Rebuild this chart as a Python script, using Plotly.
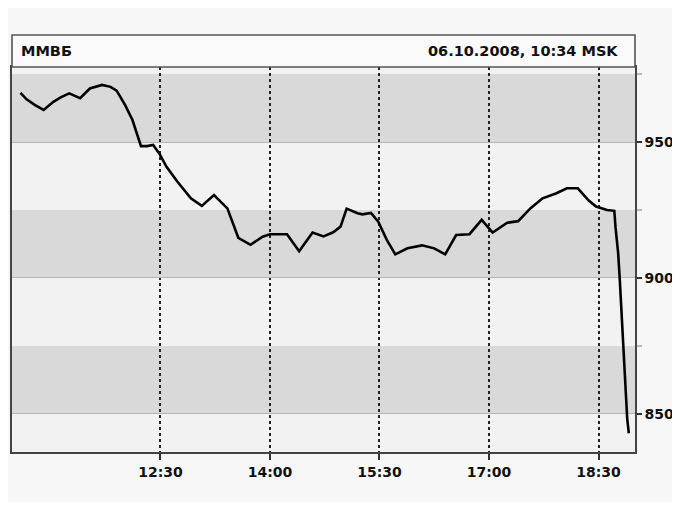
import plotly.graph_objects as go

day = "2008-10-06 "
times = ["10:35", "10:40", "10:47", "10:54", "11:02", "11:08", "11:15", "11:24", "11:32", "11:42",
         "11:49", "11:54", "12:01", "12:07", "12:14", "12:19", "12:24", "12:29", "12:35", "12:44",
         "12:55", "13:04", "13:14", "13:25", "13:34", "13:44", "13:54", "14:00", "14:14", "14:24",
         "14:35", "14:44", "14:52", "14:58", "15:03", "15:12", "15:16", "15:23", "15:29", "15:36",
         "15:43", "15:53", "16:05", "16:15", "16:24", "16:33", "16:44", "16:54", "17:03", "17:15",
         "17:24", "17:34", "17:44", "17:55", "18:04", "18:13", "18:22", "18:28", "18:37", "18:43",
         "18:44:00", "18:46:10", "18:47:30", "18:49:10", "18:50:50", "18:52:10", "18:53:35", "18:54:55"]
values = [968.1, 965.7, 963.6, 961.8, 964.8, 966.4, 967.9, 966.1, 969.7, 971.0,
          970.3, 968.9, 963.6, 958.1, 948.5, 948.5, 948.9, 945.8, 940.9, 935.4,
          929.3, 926.5, 930.5, 925.6, 914.8, 912.2, 915.2, 916.1, 916.1, 909.8,
          916.7, 915.3, 916.8, 918.9, 925.5, 923.8, 923.4, 923.9, 920.7, 914.0,
          908.7, 910.9, 912.0, 910.9, 908.7, 915.8, 916.1, 921.4, 916.7, 920.3,
          920.9, 925.6, 929.3, 931.1, 933.0, 933.0, 928.5, 926.3, 925.0, 924.7,
          918.6, 909.1, 899.3, 884.0, 868.6, 858.2, 848.4, 842.9]

tick_times = ["12:30", "14:00", "15:30", "17:00", "18:30"]
tick_labels = ["12:30", "14:00", "15:30", "17:00", "18:30"]
band_ranges = [(850, 875), (900, 925), (950, 975)]
title_left = "ММВБ"
title_right = "06.10.2008, 10:34 MSK"

x_vals = [day + t for t in times]

fig = go.Figure()
fig.add_trace(go.Scatter(x=x_vals, y=values, mode="lines",
                         line=dict(color="#000000", width=2.6, shape="linear"),
                         hoverinfo="skip", showlegend=False))

for lo, hi in band_ranges:
    fig.add_shape(type="rect", xref="paper", yref="y", x0=0, x1=1, y0=lo, y1=hi,
                  fillcolor="#d9d9d9", line=dict(width=0), layer="below")

hdr_top = 1 + 32 / 385
fig.add_shape(type="rect", xref="paper", yref="paper", x0=0, x1=1, y0=1, y1=hdr_top,
              fillcolor="#fafafa", line=dict(color="#555555", width=1.6), layer="above")

font_fam = "DejaVu Sans, Verdana, sans-serif"
fig.add_annotation(text="<b>" + title_left + "</b>", xref="paper", yref="paper",
                   x=0.012, y=(1 + hdr_top) / 2, xanchor="left", yanchor="middle",
                   showarrow=False, font=dict(family=font_fam, size=14.5, color="#111111"))
fig.add_annotation(text="<b>" + title_right + "</b>", xref="paper", yref="paper",
                   x=0.976, y=(1 + hdr_top) / 2, xanchor="right", yanchor="middle",
                   showarrow=False, font=dict(family=font_fam, size=14.5, color="#111111"))

fig.update_layout(
    width=670, height=494,
    margin=dict(l=4, r=43, t=59, b=50, autoexpand=False),
    paper_bgcolor="#f7f7f7",
    plot_bgcolor="#f2f2f2",
    showlegend=False,
    xaxis=dict(
        type="date",
        automargin=False,
        range=[day + "10:28", day + "19:00"],
        tickvals=[day + t for t in tick_times],
        ticktext=["<b>" + t + "</b>" for t in tick_labels],
        ticks="outside", ticklen=6, tickwidth=1.5, tickcolor="#333333",
        showgrid=True, gridcolor="#222222", griddash="dot", gridwidth=1.6,
        showline=True, linecolor="#444444", linewidth=1.6, mirror=True,
        zeroline=False,
        tickfont=dict(family=font_fam, size=14, color="#111111"),
    ),
    yaxis=dict(
        side="right",
        automargin=False,
        range=[836, 977.6],
        tickvals=[850, 900, 950],
        ticktext=["<b>850</b>", "<b>900</b>", "<b>950</b>"],
        ticks="outside", ticklen=5, tickwidth=1.5, tickcolor="#333333",
        showgrid=True, gridcolor="#b5b5b5", gridwidth=1,
        showline=True, linecolor="#444444", linewidth=1.6, mirror=True,
        zeroline=False,
        minor=dict(tickvals=[875, 925, 975], ticks="outside", ticklen=5,
                   tickcolor="#bbbbbb", showgrid=False),
        tickfont=dict(family=font_fam, size=14, color="#111111"),
    ),
)

fig.write_html("out.html")
